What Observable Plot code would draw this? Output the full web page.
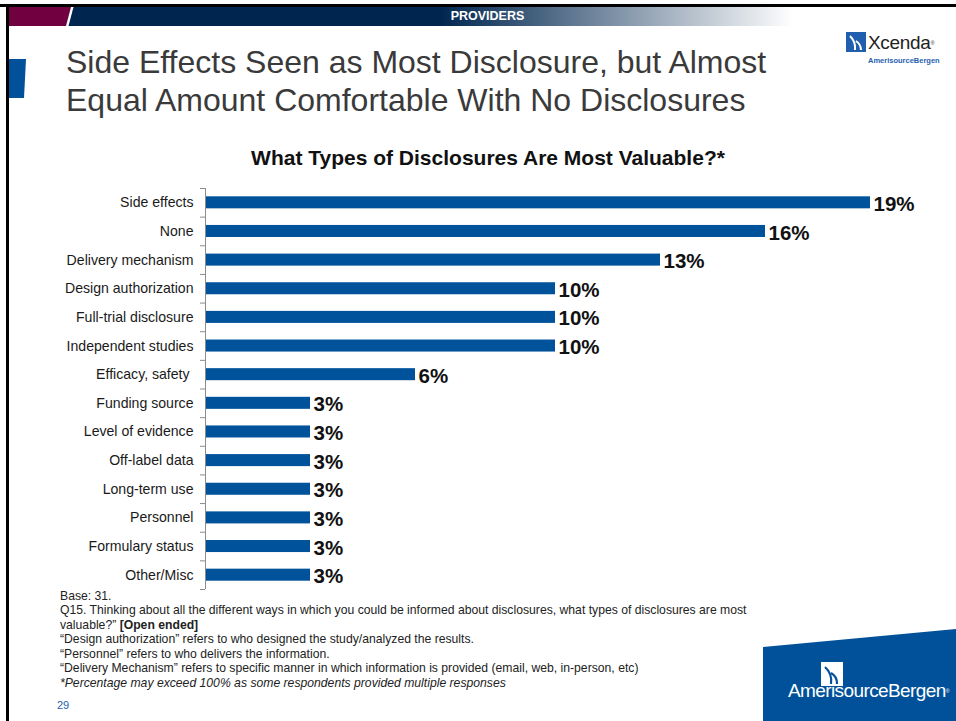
<!DOCTYPE html>
<html><head><meta charset="utf-8">
<script src="https://cdn.jsdelivr.net/npm/d3@7"></script>
<script src="https://cdn.jsdelivr.net/npm/@observablehq/plot@0.6"></script>
<style>
body{margin:0;background:#fff;}
#slide{position:relative;width:956px;height:721px;overflow:hidden;font-family:"Liberation Sans",Arial,sans-serif;background:#fff;}
.abs{position:absolute;white-space:nowrap;}
#chart{position:absolute;left:0;top:180px;}
.fn{position:absolute;left:60px;font-size:12.2px;line-height:14.6px;color:#222;white-space:nowrap;}
</style></head><body><div id="slide">
<svg class="abs" style="left:0;top:0" width="956" height="721">
  <defs><linearGradient id="g" x1="0" x2="956" gradientUnits="userSpaceOnUse">
    <stop offset="0" stop-color="#00264f"/><stop offset="0.46" stop-color="#00264f"/><stop offset="0.83" stop-color="#ffffff"/><stop offset="1" stop-color="#ffffff"/></linearGradient></defs>
  <rect x="9" y="7" width="947" height="19" fill="url(#g)"/>
  <polygon points="9,7 71,7 66,26 9,26" fill="#710041"/>
  <polygon points="71,7 73.5,7 68.5,26 66,26" fill="#ffffff"/>
  <rect x="0" y="4" width="956" height="3" fill="#000"/>
  <rect x="6" y="4" width="3" height="717" fill="#000"/>
  <polygon points="9,59 26,59 24,98 9,98" fill="#00519a"/>
  <polygon points="763,647 956,629 956,721 763,721" fill="#00519a"/>
  <g transform="translate(846,32)">
    <path d="M0,0 L20,0 L20,20 L0,20 Z" fill="#1f5fae"/>
    <path d="M3,20 A17,17 0 0 0 -2,6" stroke="#fff" stroke-width="2" fill="none" transform="translate(6,-2)"/>
    <path d="M9,20 A11,11 0 0 0 4,11" stroke="#fff" stroke-width="2" fill="none" transform="translate(6,-2)"/>
  </g>
  <g transform="translate(821,662)">
    <path d="M0,0 L22,0 L22,24 L0,24 Z" fill="#fff"/>
    <path d="M4,24 A19,19 0 0 0 -2,7" stroke="#00519a" stroke-width="2.2" fill="none" transform="translate(6,-2)"/>
    <path d="M10,24 A12,12 0 0 0 4,13" stroke="#00519a" stroke-width="2.2" fill="none" transform="translate(6,-2)"/>
  </g>
</svg>
<div class="abs" style="left:0;width:975px;top:9px;text-align:center;color:#fff;font-weight:bold;font-size:12.5px;line-height:15px;">PROVIDERS</div>
<div class="abs" style="left:66px;top:43px;font-size:32px;line-height:38px;color:#3a3a3a;">Side Effects Seen as Most Disclosure, but Almost<br>Equal Amount Comfortable With No Disclosures</div>
<div class="abs" style="left:868px;top:33px;font-size:19px;line-height:20px;color:#222;letter-spacing:-0.3px;">Xcenda<span style="font-size:5px;vertical-align:top">®</span></div>
<div class="abs" style="left:868px;top:56px;font-size:7.5px;line-height:9px;color:#1f5fae;font-weight:bold;">AmerisourceBergen</div>
<div class="abs" style="left:0;width:976px;top:146px;text-align:center;font-size:21px;line-height:24px;font-weight:bold;color:#111;">What Types of Disclosures Are Most Valuable?*</div>
<div id="chart"></div>
<div class="fn" style="top:589px;">Base: 31.</div>
<div class="fn" style="top:603px;">Q15. Thinking about all the different ways in which you could be informed about disclosures, what types of disclosures are most<br>valuable?” <b>[Open ended]</b><br>“Design authorization” refers to who designed the study/analyzed the results.<br>“Personnel” refers to who delivers the information.<br>“Delivery Mechanism” refers to specific manner in which information is provided (email, web, in-person, etc)<br><i>*Percentage may exceed 100% as some respondents provided multiple responses</i></div>
<div class="abs" style="left:57px;top:698px;font-size:11px;line-height:14px;color:#1f5fae;">29</div>
<div class="abs" style="left:788px;top:680px;font-size:19px;line-height:22px;color:#fff;letter-spacing:-0.6px;">AmerisourceBergen<span style="font-size:5px;vertical-align:top">®</span></div>
</div>
<script>
const categories = ["Side effects","None","Delivery mechanism","Design authorization","Full-trial disclosure","Independent studies","Efficacy, safety\u00a0","Funding source","Level of evidence","Off-label data","Long-term use","Personnel","Formulary status","Other/Misc"];
const values = [19,16,13,10,10,10,6,3,3,3,3,3,3,3];
const data = categories.map((c, i) => ({category: c, value: values[i]}));
const H = 420, MT = 8, MB = 11;
const step = (H - MT - MB) / categories.length;
const chart = Plot.plot({
  width: 956, height: H,
  marginLeft: 205, marginRight: 86, marginTop: MT, marginBottom: MB,
  style: {fontFamily: '"Liberation Sans", Arial, sans-serif', fontSize: "14.1px", color: "#1a1a1a", background: "transparent"},
  x: {domain: [0, 19], axis: null},
  y: {domain: categories, paddingInner: 0.58, paddingOuter: 0.29, round: false, label: null, tickSize: 0, tickPadding: 12},
  marks: [
    Plot.barX(data, {x: "value", y: "category", fill: "#00529b"}),
    Plot.ruleX([0], {stroke: "#8c8c8c"}),
    Plot.ruleY(categories, {y: d => d, x1: -5 / 35, x2: 0, dy: -step / 2, stroke: "#8c8c8c"}),
    Plot.ruleY(categories.slice(-1), {y: d => d, x1: -5 / 35, x2: 0, dy: step / 2, stroke: "#8c8c8c"}),
    Plot.text(data, {x: "value", y: "category", text: d => d.value + "%", dx: 3, dy: 1.5, textAnchor: "start", fontWeight: "bold", fontSize: 20.5, fill: "#111"})
  ]
});
document.getElementById("chart").appendChild(chart);
</script>
</body></html>
